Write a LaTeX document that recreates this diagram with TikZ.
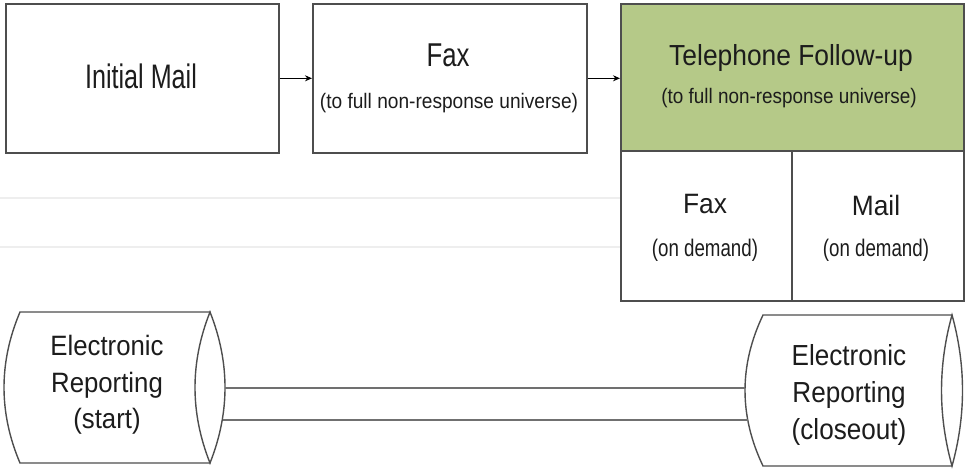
\documentclass[tikz,border=0pt]{standalone}
\usepackage{fontspec}
\setmainfont{Liberation Sans}
\usepackage{graphicx}
\usetikzlibrary{arrows.meta}
\definecolor{phonegreen}{RGB}{181,201,136}
\definecolor{edgegray}{RGB}{78,78,78}
\definecolor{linkgray}{RGB}{112,112,112}
\definecolor{inkgray}{RGB}{28,28,28}
\definecolor{faintgray}{RGB}{238,238,238}
% text in a given size, narrowed horizontally by a factor
\newcommand\sqz[3]{\scalebox{#2}[1]{\fontsize{#1}{#1}\selectfont #3}}

\begin{document}
\begin{tikzpicture}[x=1pt,y=-1pt,
  box/.style={draw=edgegray, line width=1.6pt, rectangle, inner sep=0pt, anchor=north west},
  lbl/.style={inner sep=0pt, anchor=base, text=inkgray},
  holder/.style={rectangle, inner sep=0pt, anchor=north west},
  cyl/.style={draw=edgegray, line width=1.4pt, fill=white},
  flow/.style={draw=black, line width=1.1pt, -{Stealth[length=7pt,width=6pt]}},
  link/.style={draw=linkgray, line width=1.8pt},
  faint/.style={draw=faintgray, line width=1.6pt}]
\useasboundingbox (0,0) rectangle (965,469);

% faint guide lines behind the boxes
\draw[faint] (0,198) -- (620,198);
\draw[faint] (0,247) -- (620,247);

% top row of steps
\node[box, minimum width=273pt, minimum height=149pt] (init) at (5,3) {};
\node[box, minimum width=274pt, minimum height=149pt] (fax) at (312,3) {};
\node[box, fill=phonegreen, minimum width=343pt, minimum height=147pt] (phone) at (620,3) {};
\node[box, minimum width=171pt, minimum height=150pt] (faxd) at (620,150) {};
\node[box, minimum width=172pt, minimum height=150pt] (maild) at (791,150) {};

\node[lbl] (initT) at (141,88) {\sqz{34}{0.74}{Initial Mail}};
\node[lbl] (faxT) at (448,66.5) {\sqz{33}{0.78}{Fax}};
\node[lbl] (faxS) at (449,108.5) {\sqz{21}{0.91}{(to full non-response universe)}};
\node[lbl] (phoneT) at (791,65.5) {\sqz{29}{0.91}{Telephone Follow-up}};
\node[lbl] (phoneS) at (789,103) {\sqz{21}{0.90}{(to full non-response universe)}};
\node[lbl] (faxdT) at (705,213) {\sqz{28}{0.94}{Fax}};
\node[lbl] (faxdS) at (705,256.5) {\sqz{24}{0.78}{(on demand)}};
\node[lbl] (maildT) at (876,215) {\sqz{28}{0.94}{Mail}};
\node[lbl] (maildS) at (876,256.5) {\sqz{24}{0.78}{(on demand)}};

\draw[flow] (init.east) -- (fax.west);
\draw[flow] (fax.east) -- (phone.west |- fax.east);

% electronic reporting cylinders (shallow arcs, lens-shaped ends)
\node[holder, minimum width=221pt, minimum height=151pt] (cylL) at (4,312) {};
\node[holder, minimum width=218pt, minimum height=151pt] (cylR) at (745,315) {};

\draw[cyl] (20,312) -- (210,312) -- (210,463) -- (20,463)
  .. controls (-1.33,412.67) and (-1.33,362.33) .. (20,312) -- cycle;
\draw[cyl] (210,312) .. controls (190,362.33) and (190,412.67) .. (210,463)
  .. controls (230,412.67) and (230,362.33) .. (210,312) -- cycle;

\draw[cyl] (763,315) -- (952,315) -- (952,466) -- (763,466)
  .. controls (739,415.67) and (739,365.33) .. (763,315) -- cycle;
\draw[cyl] (952,315) .. controls (938,365.33) and (938,415.67) .. (952,466)
  .. controls (966,415.67) and (966,365.33) .. (952,315) -- cycle;

\node[lbl] (cylLa) at (107,355) {\sqz{28}{0.92}{Electronic}};
\node[lbl] (cylLb) at (107,392) {\sqz{28}{0.92}{Reporting}};
\node[lbl] (cylLc) at (107,428.5) {\sqz{28}{0.92}{(start)}};
\node[lbl] (cylRa) at (849,365) {\sqz{29}{0.90}{Electronic}};
\node[lbl] (cylRb) at (849,402) {\sqz{29}{0.90}{Reporting}};
\node[lbl] (cylRc) at (849,439.5) {\sqz{29}{0.90}{(closeout)}};

\draw[link] ([yshift=-0.5pt]cylL.east) -- ([yshift=-0.5pt]cylL.east -| cylR.west);
\draw[link] ([yshift=-32.5pt, xshift=-2.8pt]cylL.east) -- ([yshift=-32.5pt, xshift=2.8pt]cylL.east -| cylR.west);
\end{tikzpicture}
\end{document}
